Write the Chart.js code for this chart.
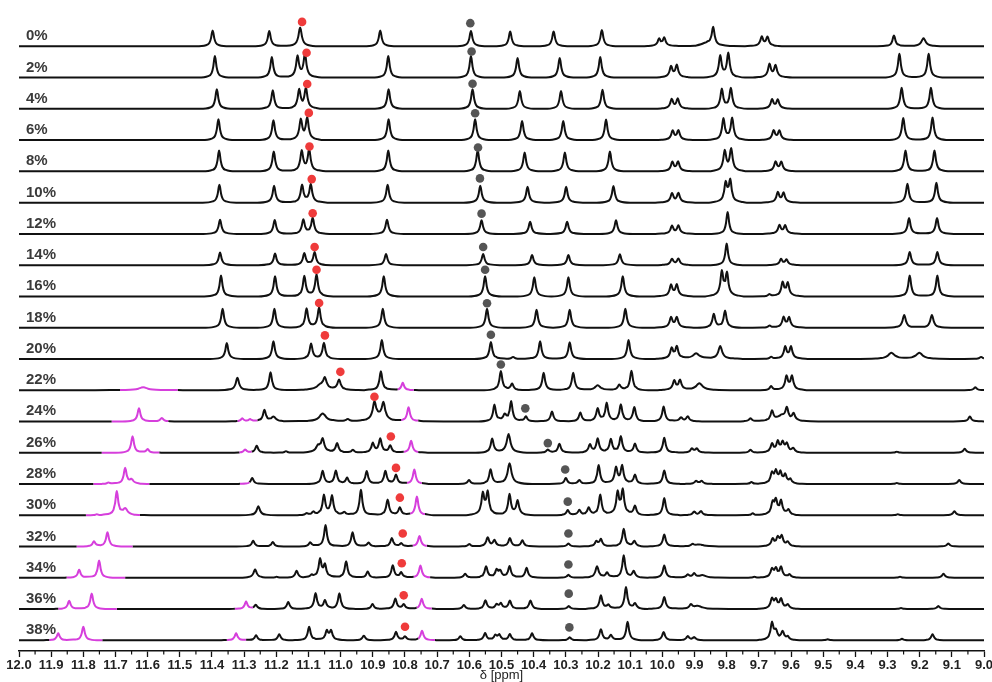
<!DOCTYPE html>
<html><head><meta charset="utf-8">
<script src="https://cdn.jsdelivr.net/npm/chart.js@4.4.1/dist/chart.umd.min.js"></script>
<style>html,body{margin:0;padding:0;background:#fff;overflow:hidden}canvas{display:block}</style>
</head><body><canvas id="c" width="992" height="682"></canvas>
<script>
// ---- data (ppm, height, optional half-width) ----
const rowLabels = ['0%','2%','4%','6%','8%','10%','12%','14%','16%','18%','20%','22%','24%','26%','28%','30%','32%','34%','36%','38%'];

const s00 = [[11.398,16],[11.222,15.5],[11.126,19,0.006],[10.877,16],[10.595,15.5],[10.473,15],[10.338,15],[10.188,16.5],[10.010,7],[9.994,8],[9.860,3,0.02],[9.842,18],[9.691,9],[9.673,9],[9.280,11],[9.188,8,0.008]];
const s02 = [[11.391,21.7],[11.214,20.7],[11.134,21],[11.111,23],[10.852,21.7],[10.595,21.7],[10.450,19.7],[10.319,19.7],[10.193,20.7],[9.973,10.7],[9.955,12],[9.820,21.3],[9.795,24],[9.667,13],[9.648,11.7],[9.263,24],[9.172,24]];
const s04 = [[11.385,19.7],[11.211,18.7],[11.129,18.7],[11.108,20.3],[10.851,19.7],[10.590,19.7],[10.443,18],[10.315,18],[10.186,19.3],[9.971,9.3],[9.952,9.7],[9.815,19.3],[9.787,20.3],[9.659,9],[9.641,8.7],[9.256,21.3],[9.165,21.3]];
const s06 = [[11.380,21],[11.209,20],[11.124,20],[11.104,21.7],[10.851,21],[10.582,21],[10.436,19.3],[10.308,19.3],[10.175,20.7],[9.968,9],[9.950,9.3],[9.810,21],[9.783,21.7],[9.654,9.3],[9.636,9],[9.251,22.3],[9.160,22.7]];
const s08 = [[11.378,21],[11.208,20],[11.121,20],[11.098,21.5],[10.852,21],[10.574,21],[10.428,19],[10.303,19],[10.163,20],[9.969,9],[9.951,9.3],[9.806,20],[9.786,22],[9.648,9.3],[9.630,9],[9.244,21],[9.154,21]];
const s10 = [[11.377,18],[11.207,17],[11.120,17.3],[11.093,18],[10.854,18],[10.566,17],[10.419,16],[10.299,16],[10.152,16.7],[9.970,9],[9.950,9.3],[9.803,18.7],[9.789,21.3],[9.641,10],[9.623,9.3],[9.238,19],[9.148,20]];
const s12 = [[11.375,14.3],[11.205,14],[11.116,14],[11.087,15.7],[10.856,14.3],[10.562,13.7],[10.411,12.3],[10.296,12.3],[10.144,13.7],[9.970,7.7],[9.950,8],[9.797,22,0.005],[9.636,8.3],[9.618,8],[9.233,16],[9.146,16]];
const s14 = [[11.375,12.7],[11.204,11.7],[11.113,11.7],[11.081,12.7],[10.859,11.3],[10.557,11.3],[10.405,10.3],[10.292,10.3],[10.132,11],[9.970,6],[9.950,6.3],[9.800,21.7,0.005],[9.631,5.7],[9.614,5.3],[9.231,13.3],[9.145,13.3]];
const s16 = [[11.372,21],[11.204,20.3],[11.113,20],[11.075,21.7],[10.866,20.3],[10.551,20.3],[10.398,19.3],[10.292,19.3],[10.123,20.3],[9.973,11],[9.955,11.3],[9.815,23.7],[9.799,22],[9.667,2],[9.626,13.3],[9.610,12.7],[9.231,21],[9.145,21]];
const s18 = [[11.367,19],[11.206,19],[11.106,19],[11.067,20],[10.869,19],[10.545,19],[10.391,18],[10.288,18],[10.115,19],[9.973,10],[9.955,10],[9.840,13.3],[9.805,16.7],[9.667,2],[9.623,10],[9.606,9.7],[9.248,12.7,0.006],[9.162,12.7,0.006]];
const s20 = [[11.354,16],[11.209,17.7],[11.092,15],[11.052,16],[10.872,19],[10.533,17],[10.464,2],[10.380,17.7],[10.288,16.7],[10.105,19],[9.971,10],[9.955,11.7],[9.895,5.7,0.012],[9.820,12.7,0.007],[9.662,2],[9.618,11.7],[9.600,11.7],[9.288,6,0.012],[9.201,6,0.012],[9.009,2]];
const s22 = [[11.614,3,0.015],[11.321,12.5,0.006],[11.218,18],[11.062,5,0.015],[11.049,10,0.006],[11.005,10,0.006],[10.875,19],[10.807,7.5,0.005],[10.502,19],[10.467,6],[10.369,17.5],[10.277,17.5],[10.201,5,0.01],[10.134,5],[10.096,19.5],[9.963,9],[9.945,9.5],[9.885,7,0.012],[9.662,4],[9.614,13.5],[9.597,13.5],[9.027,3]];
const s24 = [[11.627,13.3],[11.556,3.5,0.006],[11.306,3],[11.282,2],[11.237,11.3],[11.209,4.5,0.008],[11.056,8,0.012],[10.978,2],[10.880,4,0.02],[10.895,17,0.006],[10.867,16,0.006],[10.789,14],[10.522,16.7,0.005],[10.490,6],[10.470,20,0.005],[10.424,5],[10.343,10],[10.255,9],[10.201,12.7],[10.173,18],[10.129,16.7],[10.087,14.3],[9.996,15],[9.942,4],[9.921,5],[9.726,3],[9.659,10],[9.630,5,0.015],[9.613,12],[9.592,7],[9.044,5]];
const s26 = [[11.647,16.5],[11.600,3.5],[11.297,3],[11.261,7],[11.170,1.5],[11.070,6,0.008],[11.056,13,0.006],[11.011,9.3],[10.962,3],[10.900,9.3],[10.877,13.7],[10.846,7],[10.781,12],[10.529,13.7],[10.478,18.7,0.007],[10.356,3],[10.320,9],[10.225,8],[10.201,13.7],[10.160,13],[10.129,16],[10.085,9],[9.994,15],[9.908,4],[9.893,4],[9.726,3],[9.659,8.3],[9.641,10],[9.626,9],[9.613,8],[9.593,4],[9.271,1],[9.060,4]];
const s28 = [[11.722,1.5],[11.670,16],[11.650,4,0.006],[11.275,6],[11.056,13],[11.015,13],[10.980,6],[10.919,13],[10.861,13],[10.828,9],[10.771,14.5],[10.601,4],[10.534,14.5],[10.475,21,0.007],[10.300,6],[10.258,4],[10.198,19],[10.144,16],[10.125,17.5],[10.085,9],[9.994,13.7],[9.895,3],[9.878,3],[9.723,2],[9.659,10],[9.647,11],[9.633,10],[9.618,8],[9.602,4],[9.271,1],[9.077,4]];
const s30 = [[11.758,1],[11.696,23.7],[11.670,6,0.008],[11.256,9,0.006],[11.106,2],[11.085,3],[11.052,19.5],[11.027,19],[10.989,3],[10.937,25.7],[10.854,15.7],[10.816,7.5],[10.763,19],[10.558,20.7],[10.543,22],[10.475,20.7],[10.450,14],[10.294,5],[10.258,5],[10.229,7],[10.193,20.7],[10.139,22],[10.123,24],[10.085,9],[9.994,17.3],[9.901,3.5],[9.880,4],[9.719,2],[9.657,11.3],[9.647,13],[9.631,13],[9.608,5],[9.268,1],[9.092,4]];
const s32 = [[11.767,5],[11.725,14.3],[11.272,5.7],[11.211,4.5],[11.095,4],[11.047,21.7],[10.963,14.3],[10.913,4],[10.841,8.3],[10.812,3],[10.755,10.7],[10.600,2.5],[10.543,9],[10.522,6],[10.474,8.3],[10.435,6],[10.292,3],[10.205,4.7],[10.191,7],[10.120,17.7],[10.087,5],[9.994,12],[9.906,2],[9.885,2,0.015],[9.657,7],[9.641,8],[9.629,9.5],[9.610,4],[9.111,3]];
const s34 = [[11.813,8],[11.751,17.3],[11.266,8.3,0.006],[11.199,1],[11.137,7],[11.090,2],[11.064,18],[11.049,12],[10.983,16.7],[10.916,6.3],[10.838,12.3],[10.812,5],[10.752,12.3],[10.613,4],[10.548,11.3],[10.515,7],[10.504,6],[10.475,11.3],[10.422,10],[10.292,3],[10.203,11.3,0.006],[10.172,5],[10.120,22.3],[10.089,6],[9.994,12.3],[9.921,3],[9.901,4],[9.875,2.5,0.012],[9.714,1],[9.659,8],[9.647,8],[9.631,10],[9.605,3],[9.261,1],[9.126,4]];
const s36 = [[11.844,8.3],[11.774,15.7],[11.294,7.3],[11.264,4],[11.163,7],[11.078,15.7],[11.049,8],[11.004,15.7],[10.901,5],[10.830,10.3],[10.804,4.5],[10.748,10.3],[10.617,4],[10.550,8.7],[10.515,4],[10.502,5],[10.474,8.3],[10.410,8.7],[10.291,3],[10.191,13.7],[10.168,4],[10.113,22],[10.085,5],[9.994,12],[9.911,4],[9.890,3,0.015],[9.659,9.7],[9.647,8],[9.631,9.3],[9.610,4],[9.258,1],[9.142,3]];
const s38 = [[11.878,7],[11.800,13.7],[11.325,7],[11.263,5],[11.191,6],[11.098,13.7],[11.043,9],[11.030,9],[10.928,4.7],[10.828,8.3],[10.800,3.7],[10.747,9.7],[10.628,4],[10.551,7],[10.519,4.5],[10.507,5],[10.474,6],[10.405,7],[10.288,3],[10.191,11],[10.160,5],[10.108,18.7],[9.996,8.3],[9.921,4],[9.901,3],[9.659,17],[9.647,8],[9.626,8],[9.610,3],[9.486,1],[9.255,1.5],[9.160,6]];
const spectra = [s00,s02,s04,s06,s08,s10,s12,s14,s16,s18,s20,s22,s24,s26,s28,s30,s32,s34,s36,s38];

// magenta-highlighted ppm ranges per spectrum
const magentaRanges = [[],[],[],[],[],[],[],[],[],[],[],
  [[11.686,11.507],[10.823,10.773]],
  [[11.712,11.536],[11.321,11.259],[10.812,10.759]],
  [[11.743,11.564],[11.315,11.277],[10.804,10.759]],
  [[11.769,11.595],[11.313,11.284],[10.794,10.748]],
  [[11.792,11.624],[10.784,10.738]],
  [[11.821,11.647],[10.776,10.732]],
  [[11.852,11.670],[10.773,10.722]],
  [[11.878,11.696],[11.329,11.273],[10.764,10.717]],
  [[11.906,11.741],[11.354,11.294],[10.759,10.707]]];

// marker dots (ppm, height above baseline)
const redPpm  = [11.120,11.106,11.104,11.099,11.097,11.090,11.087,11.081,11.075,11.067,11.049,11.001,10.895,10.844,10.828,10.816,10.807,10.810,10.804,10.800];
const redTop  = [24.6,25,25,27.4,25,23.7,20.8,18.3,26.8,24.9,23.7,18.5,24.9,16.4,16.2,17.7,13.1,14.6,13.8,13.6];
const grayPpm = [10.597,10.593,10.590,10.582,10.573,10.567,10.562,10.557,10.551,10.545,10.533,10.502,10.426,10.356,10.302,10.294,10.292,10.292,10.291,10.289];
const grayTop = [23.3,26.3,25.3,27,24,24.4,20.4,18.3,26.8,24.6,24.3,25.8,13.2,9.7,14.6,13.7,13.1,13.3,15.5,13];

// ---- construction ----
const ROW_GAP = 31.47, TOP_BASE = 608.7;
const base = i => TOP_BASE - ROW_GAP * i;
const HW = 0.0052;
const SHAPE = [[-10,0],[-4,0.07],[-2,0.21],[-1,0.5],[-0.4,0.86],[0,1],[0.4,0.86],[1,0.5],[2,0.21],[4,0.07],[10,0]];
function shapeAt(u){
  if (u <= -10 || u >= 10) return 0;
  for (let k = 0; k < SHAPE.length - 1; k++){
    const a = SHAPE[k], b = SHAPE[k+1];
    if (u >= a[0] && u <= b[0]) return a[1] + (b[1]-a[1]) * (u - a[0]) / (b[0]-a[0]);
  }
  return 0;
}
function buildRow(peaks, ranges, i){
  const xs = new Set([9, 12]);
  peaks.forEach(p => { const hw = p[2] || HW; SHAPE.forEach(s => { const x = +(p[0] + s[0]*hw).toFixed(5); if (x > 9 && x < 12) xs.add(x); }); });
  ranges.forEach(r => { xs.add(r[0]); xs.add(r[1]); });
  return [...xs].sort((a,b) => a-b).map(x => ({x, y: base(i) + peaks.reduce((s,p) => s + p[1]*shapeAt((x-p[0])/(p[2]||HW)), 0)}));
}
const MAG = '#d63fdc';
const inRange = (a, b, ranges) => { const m = (a+b)/2; return ranges.some(r => m <= r[0] + 1e-6 && m >= r[1] - 1e-6); };

const datasets = [];
datasets.push({type:'scatter', data: redPpm.map((x,i) => ({x, y: base(i) + redTop[i]})), pointRadius: 4.3, pointHoverRadius: 4.3, pointBackgroundColor: '#ef3b3b', pointBorderWidth: 0, order: -2});
datasets.push({type:'scatter', data: grayPpm.map((x,i) => ({x, y: base(i) + grayTop[i]})), pointRadius: 4.3, pointHoverRadius: 4.3, pointBackgroundColor: '#555555', pointBorderWidth: 0, order: -2});
spectra.forEach((peaks, i) => {
  const ranges = magentaRanges[i];
  datasets.push({type:'line', data: buildRow(peaks, ranges, i), borderColor: '#111', borderWidth: 2, pointRadius: 0,
    tension: 0.4, cubicInterpolationMode: 'monotone', fill: false, borderJoinStyle: 'round',
    segment: { borderColor: ctx => inRange(ctx.p0.parsed.x, ctx.p1.parsed.x, ranges) ? MAG : undefined }});
});

const minorTicks = {id:'minorTicks', afterDraw(chart){
  const s = chart.scales.x, c = chart.ctx; c.save(); c.strokeStyle = '#111'; c.lineWidth = 1.2;
  for (let k = 0; k < 30; k++){ const px = s.getPixelForValue(9.05 + 0.1*k); c.beginPath(); c.moveTo(px, s.top); c.lineTo(px, s.top + 3.5); c.stroke(); }
  c.restore(); }};
const rowText = {id:'rowText', afterDatasetsDraw(chart){
  const c = chart.ctx, y = chart.scales.y, x = chart.scales.x; c.save();
  c.font = "bold 15px 'Liberation Sans', Arial, sans-serif"; c.fillStyle = '#3a3a3a'; c.textBaseline = 'alphabetic'; c.textAlign = 'left';
  rowLabels.forEach((t, i) => c.fillText(t, x.left + 7, y.getPixelForValue(base(i)) - 6));
  c.restore(); }};

Chart.defaults.font.family = "'Liberation Sans', Arial, sans-serif";
new Chart(document.getElementById('c'), {
  type: 'line',
  data: {datasets},
  options: {
    responsive: false, animation: false, devicePixelRatio: 1,
    layout: {padding: {left: 19, right: 8, top: 0, bottom: 0}},
    plugins: {legend: {display: false}, tooltip: {enabled: false}},
    scales: {
      x: {type: 'linear', min: 9, max: 12, reverse: true,
        afterFit: s => { s.height = 31; s.paddingLeft = 0; s.paddingRight = 0; },
        border: {display: true, color: '#111', width: 1.5},
        grid: {drawOnChartArea: false, drawTicks: true, tickLength: 6, tickColor: '#111', tickWidth: 1.3},
        ticks: {stepSize: 0.1, autoSkip: false, maxRotation: 0, minRotation: 0, padding: 1, color: '#222',
          font: {size: 13, weight: 'bold'}, callback: v => (+v).toFixed(1)},
        title: {display: true, text: 'δ [ppm]', color: '#222', font: {size: 13, lineHeight: 1.0}, padding: 0}},
      y: {type: 'linear', min: 0, max: 651, display: false}
    }
  },
  plugins: [minorTicks, rowText]
});
</script></body></html>
